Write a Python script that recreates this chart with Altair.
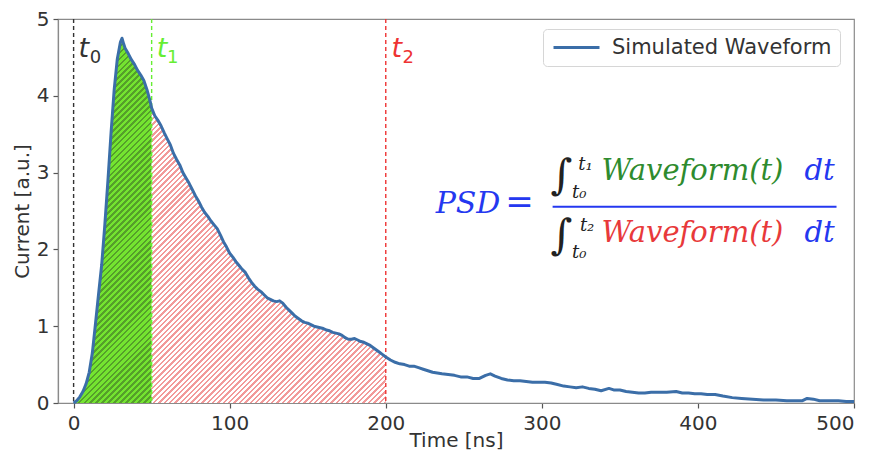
import math
import altair as alt
import pandas as pd

# ---------------- data ----------------
times = [0, 2, 4, 6, 8, 10, 12, 14, 16, 18, 20, 22, 24, 26, 28, 30, 31, 32, 33, 35,
         37, 39, 41, 43, 45, 47, 49, 50, 52, 54, 56, 58, 60, 62, 64, 66, 68, 70, 72, 74,
         76, 78, 80, 82, 84, 86, 88, 90, 92, 94, 96, 98, 100, 102, 104, 106, 108, 110, 112, 114,
         116, 118, 120, 122, 124, 126, 128, 130, 132, 134, 136, 138, 140, 142, 144, 146, 148, 150, 152, 154,
         156, 158, 160, 162, 164, 166, 168, 170, 172, 174, 176, 178, 180, 182, 184, 186, 188, 190, 192, 194,
         196, 198, 200, 203, 206, 209, 212, 215, 218, 221, 224, 227, 230, 233, 236, 240, 244, 248, 252, 256,
         260, 264, 267, 270, 274, 278, 282, 286, 290, 294, 298, 302, 306, 310, 314, 318, 322, 326, 330, 334,
         338, 343, 346, 350, 354, 358, 362, 366, 370, 375, 380, 386, 390, 394, 398, 402, 406, 411, 416, 422,
         428, 435, 442, 450, 457, 464, 467, 470, 474, 478, 484, 490, 495, 500]
current = [0.00, 0.03, 0.08, 0.15, 0.25, 0.40, 0.65, 1.03, 1.42, 1.80, 2.32, 2.90, 3.52, 4.08, 4.48, 4.70, 4.75, 4.68, 4.62, 4.55,
           4.47, 4.41, 4.33, 4.27, 4.20, 4.08, 3.93, 3.84, 3.74, 3.68, 3.61, 3.52, 3.44, 3.36, 3.25, 3.17, 3.10, 3.00, 2.93, 2.86,
           2.78, 2.70, 2.63, 2.55, 2.48, 2.43, 2.37, 2.32, 2.27, 2.19, 2.10, 2.03, 1.95, 1.90, 1.84, 1.79, 1.74, 1.70, 1.63, 1.57,
           1.52, 1.48, 1.45, 1.41, 1.37, 1.35, 1.33, 1.32, 1.33, 1.30, 1.25, 1.21, 1.17, 1.13, 1.10, 1.07, 1.05, 1.04, 1.02, 1.00,
           0.99, 0.98, 0.97, 0.95, 0.94, 0.92, 0.91, 0.90, 0.88, 0.85, 0.83, 0.83, 0.84, 0.82, 0.80, 0.79, 0.77, 0.75, 0.72, 0.69,
           0.66, 0.63, 0.60, 0.56, 0.53, 0.51, 0.50, 0.48, 0.48, 0.46, 0.44, 0.42, 0.40, 0.39, 0.38, 0.37, 0.36, 0.34, 0.34, 0.32,
           0.32, 0.36, 0.38, 0.35, 0.32, 0.30, 0.29, 0.29, 0.28, 0.27, 0.27, 0.27, 0.26, 0.24, 0.22, 0.21, 0.20, 0.21, 0.19, 0.18,
           0.16, 0.19, 0.17, 0.17, 0.15, 0.14, 0.13, 0.13, 0.14, 0.14, 0.14, 0.15, 0.13, 0.13, 0.12, 0.12, 0.11, 0.11, 0.09, 0.07,
           0.06, 0.05, 0.04, 0.04, 0.03, 0.03, 0.03, 0.06, 0.05, 0.03, 0.03, 0.03, 0.02, 0.02]
series_name = "Simulated Waveform"

t_marks = [0, 50, 200]
t_mark_colors = ["#333333", "#66ee33", "#ee3333"]
t_label_main = ["t", "t", "t"]
t_label_sub = ["0", "1", "2"]

x_ticks = [0, 100, 200, 300, 400, 500]
y_ticks = [0, 1, 2, 3, 4, 5]
x_domain = [-10, 500]
y_domain = [0, 5]

# ---------------- layout ----------------
W_PLOT, H_PLOT = 796, 384
SX = W_PLOT / (x_domain[1] - x_domain[0])
SY = H_PLOT / (y_domain[1] - y_domain[0])

df = pd.DataFrame({"t": times, "v": current, "series": series_name})


def stripe_gradient(t0, t1, period, frac, c1, c2):
    sub = df[(df.t >= t0) & (df.t <= t1)]
    W = (t1 - t0) * SX
    H = sub.v.max() * SY
    k = (W + H) * W / (W * W + H * H)
    ds = period * math.sqrt(2) / (W + H)
    n = int(math.ceil(1 / ds))
    stops = []
    for i in range(n):
        a = min(i * ds, 1)
        b = min((i + frac) * ds, 1)
        c = min((i + 1) * ds, 1)
        for off, col in ((a, c1), (b, c1), (b, c2), (c, c2)):
            stops.append(alt.GradientStop(offset=round(off, 6), color=col))
    return alt.LinearGradient(gradient="linear", x1=0, y1=0, x2=k, y2=k * H / W, stops=stops)


xs = alt.Scale(domain=x_domain, nice=False, zero=False)
ys = alt.Scale(domain=y_domain, nice=False)

X = alt.X("t:Q", scale=xs,
          axis=alt.Axis(values=x_ticks, format="d", title="Time [ns]", grid=False))
Y = alt.Y("v:Q", scale=ys,
          axis=alt.Axis(values=y_ticks, format="d", title="Current [a.u.]", grid=False))

base = alt.Chart(df)

green = base.transform_filter("datum.t >= 0 && datum.t <= 50").mark_area(
    color=stripe_gradient(0, 50, 4.2, 0.45, "#55a02a", "#74e430"), opacity=1
).encode(x=X, y=Y)

red = base.transform_filter("datum.t >= 50 && datum.t <= 200").mark_area(
    color=stripe_gradient(50, 200, 3.8, 0.45, "#f29a9a", "#ffffff"), opacity=1
).encode(x=X, y=Y)

rules_df = pd.DataFrame({"t": t_marks, "c": t_mark_colors})
rules = alt.Chart(rules_df).mark_rule(strokeDash=[4, 3], strokeWidth=1.4).encode(
    x=alt.X("t:Q", scale=xs), color=alt.Color("c:N", scale=None)
)

line = base.mark_line(strokeWidth=3, strokeJoin="round").encode(
    x=X, y=Y,
    color=alt.Color("series:N", scale=alt.Scale(range=["#3b6ea8"]),
                    legend=alt.Legend(title=None, orient="none", legendX=485, legendY=10,
                                      symbolType="M-3,0H3", symbolSize=235,
                                      symbolStrokeWidth=3, symbolOffset=15,
                                      labelFontSize=21, labelLimit=0,
                                      labelOffset=25, labelColor="#333333",
                                      padding=8, fillColor="white",
                                      strokeColor="#d6d6d6", cornerRadius=4,
                                      labelFont="DejaVu Sans"))
)

# t labels
lab_df = pd.DataFrame({
    "tx": [3.2, 53.2, 203.7], "sx": [10.4, 59.8, 210.8],
    "main": t_label_main, "sub": t_label_sub, "c": t_mark_colors,
})
lab_main = alt.Chart(lab_df).mark_text(
    font="DejaVu Sans", fontStyle="italic", fontSize=27, align="left", baseline="alphabetic"
).encode(x=alt.X("tx:Q", scale=xs), y=alt.datum(4.51, scale=ys), text="main:N",
         color=alt.Color("c:N", scale=None))
lab_sub = alt.Chart(lab_df).mark_text(
    font="DejaVu Sans", fontSize=18, align="left", baseline="alphabetic"
).encode(x=alt.X("sx:Q", scale=xs), y=alt.datum(4.43, scale=ys), text="sub:N",
         color=alt.Color("c:N", scale=None))

# PSD formula
BLUE, GREEN, RED = "#2438f0", "#2e8b2e", "#e8393a"
f_df = pd.DataFrame({
    "x": [252.7, 285.7, 396.5, 478.0, 396.5, 478.0],
    "y": [2.47, 2.47, 2.90, 2.90, 2.10, 2.10],
    "txt": ["PSD", "=", "Waveform(t)", "dt", "Waveform(t)", "dt"],
    "c": [BLUE, BLUE, GREEN, BLUE, RED, BLUE],
})
f_psd = alt.Chart(f_df.iloc[[0]]).mark_text(
    font="DejaVu Serif", fontStyle="italic", fontSize=30, align="center", baseline="alphabetic"
).encode(x=alt.X("x:Q", scale=xs), y=alt.Y("y:Q", scale=ys), text="txt:N",
         color=alt.Color("c:N", scale=None))
f_italic = alt.Chart(f_df.iloc[2:]).mark_text(
    font="DejaVu Serif", fontStyle="italic", fontSize=29, align="center", baseline="alphabetic"
).encode(x=alt.X("x:Q", scale=xs), y=alt.Y("y:Q", scale=ys), text="txt:N",
         color=alt.Color("c:N", scale=None))
f_normal = alt.Chart(f_df.iloc[[1]]).mark_text(
    font="DejaVu Serif", fontSize=34, align="center", baseline="alphabetic"
).encode(x=alt.X("x:Q", scale=xs), y=alt.Y("y:Q", scale=ys), text="txt:N",
         color=alt.Color("c:N", scale=None))

int_df = pd.DataFrame({"x": [312.5, 312.5], "y": [2.95, 2.18], "txt": ["∫", "∫"]})
integrals = alt.Chart(int_df).mark_text(
    font="DejaVu Serif", fontSize=42, align="center", baseline="middle", color="#222222"
).encode(x=alt.X("x:Q", scale=xs), y=alt.Y("y:Q", scale=ys), text="txt:N")

lim_df = pd.DataFrame({
    "x": [328.0, 324.0, 329.0, 324.0],
    "y": [3.10, 2.73, 2.31, 1.95],
    "txt": ["t₁", "t₀", "t₂", "t₀"],
})
limits = alt.Chart(lim_df).mark_text(
    font="DejaVu Serif", fontStyle="italic", fontSize=18, align="center", baseline="middle",
    color="#222222"
).encode(x=alt.X("x:Q", scale=xs), y=alt.Y("y:Q", scale=ys), text="txt:N")

bar_df = pd.DataFrame({"x": [306.9], "x2": [488.8], "y": [2.555]})
frac_bar = alt.Chart(bar_df).mark_rule(color=BLUE, strokeWidth=2).encode(
    x=alt.X("x:Q", scale=xs), x2="x2:Q", y=alt.Y("y:Q", scale=ys)
)

chart = alt.layer(
    green, red, rules, line, lab_main, lab_sub,
    frac_bar, integrals, limits, f_psd, f_italic, f_normal
).properties(
    width=W_PLOT, height=H_PLOT,
    autosize=alt.AutoSizeParams(type="none"),
    padding={"left": 50, "top": 11, "right": 15, "bottom": 48},
).configure_view(
    stroke="#8a8a8a", strokeWidth=1.2
).configure_axis(
    labelFont="DejaVu Sans", titleFont="DejaVu Sans",
    labelFontSize=20, titleFontSize=20, labelColor="#333333", titleColor="#333333",
    titleFontWeight="normal", domainColor="#8a8a8a", domainWidth=1.2,
    tickColor="#555555", tickSize=5, tickWidth=1.2,
).configure_axisX(labelPadding=5, titleBaseline="alphabetic", titleY=43).configure_axisY(
    titlePadding=4, labelPadding=4)

chart.save("out.html", embed_options={"renderer": "svg", "actions": False})
